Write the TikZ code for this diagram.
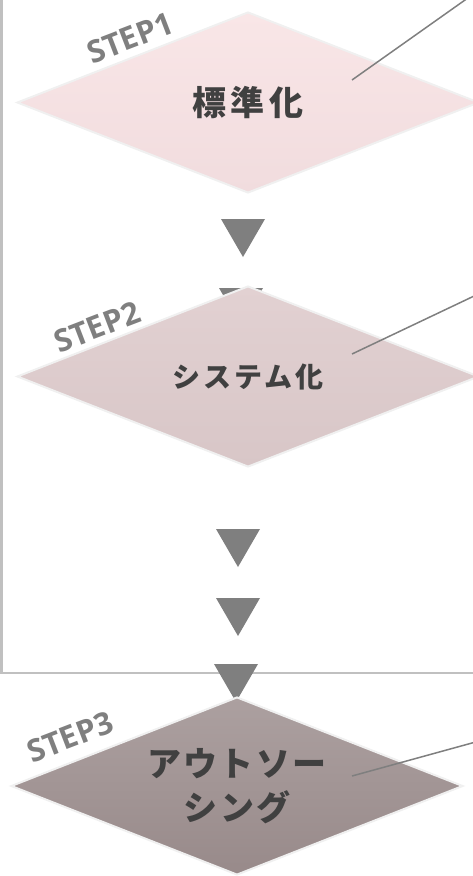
\documentclass[tikz,border=0pt]{standalone}
\usepackage{fontspec}
\newfontfamily\jpfont{Noto Sans CJK JP}
\newfontfamily\stepfont{Open Sans}
\usetikzlibrary{positioning}
\usetikzlibrary{shapes.geometric}
\definecolor{boxline}{HTML}{F0F0F0}
\definecolor{labeltext}{HTML}{404040}
\definecolor{steptext}{HTML}{7F7F7F}
\definecolor{arrowgray}{HTML}{7F7F7F}
\definecolor{framegray}{HTML}{C0C0C0}
\tikzset{stepbox/.style={diamond, shape aspect=2.55, draw=boxline, line width=2pt, inner sep=0pt, minimum width=462pt, minimum height=181pt, text=labeltext, align=center}}
\tikzset{steplabel/.style={font=\stepfont\bfseries\fontsize{31}{31}\selectfont, text=steptext, rotate=21, inner sep=0pt}}
\tikzset{callout/.style={draw=arrowgray, line width=1.5pt}}
\tikzset{frameline/.style={draw=framegray, line width=2.5pt}}
\newcommand\downtri[1]{\fill[arrowgray] (#1) ++(-22,0) -- ++(44,0) -- ++(-22,38) -- cycle;}

\begin{document}
\begin{tikzpicture}[x=1pt, y=-1pt]
    \useasboundingbox (0,0) rectangle (472,876);
    \draw[frameline] (1.5,-10) |- (480,673);

    \coordinate (t1) at (243,219);
    \coordinate (t2) at (241,288);
    \coordinate (t3) at (238,529);
    \coordinate (t4) at (238,598);
    \coordinate (t5) at (236,664);
    \foreach \t in {t1,t2,t3,t4,t5} {\downtri{\t}}

    \node[stepbox, top color={rgb,255:red,249;green,230;blue,231}, bottom color={rgb,255:red,241;green,220;blue,222},
      font=\jpfont\bfseries\fontsize{34}{34}\selectfont\addfontfeature{LetterSpace=12}]
      (std) at (248,102.5) {標準化};
    \node[stepbox, top color={rgb,255:red,226;green,209;blue,210}, bottom color={rgb,255:red,216;green,198;blue,199},
      font=\jpfont\bfseries\fontsize{28}{28}\selectfont\addfontfeature{LetterSpace=10}]
      (sys) at (248,376.5) {システム化};
    \node[stepbox, minimum width=452pt, minimum height=178pt, top color={rgb,255:red,172;green,160;blue,160}, bottom color={rgb,255:red,152;green,138;blue,138},
      font=\jpfont\bfseries\fontsize{34}{44}\selectfont\addfontfeature{LetterSpace=6}]
      (out) at (237,786) {アウトソー\\シング};

    \node[steplabel] (s1) at (130,38) {STEP1};
    \node[steplabel] (s2) at (97,327) {STEP2};
    \node[steplabel] (s3) at (70,737) {STEP3};

    \coordinate (c1) at (352,80);
    \coordinate (e1) at (480,-10.6);
    \coordinate (c2) at (352,354);
    \coordinate (e2) at (480,293.2);
    \coordinate (c3) at (352,776);
    \coordinate (e3) at (480,740.8);
    \draw[callout] (c1) -- (e1);
    \draw[callout] (c2) -- (e2);
    \draw[callout] (c3) -- (e3);
\end{tikzpicture}
\end{document}
